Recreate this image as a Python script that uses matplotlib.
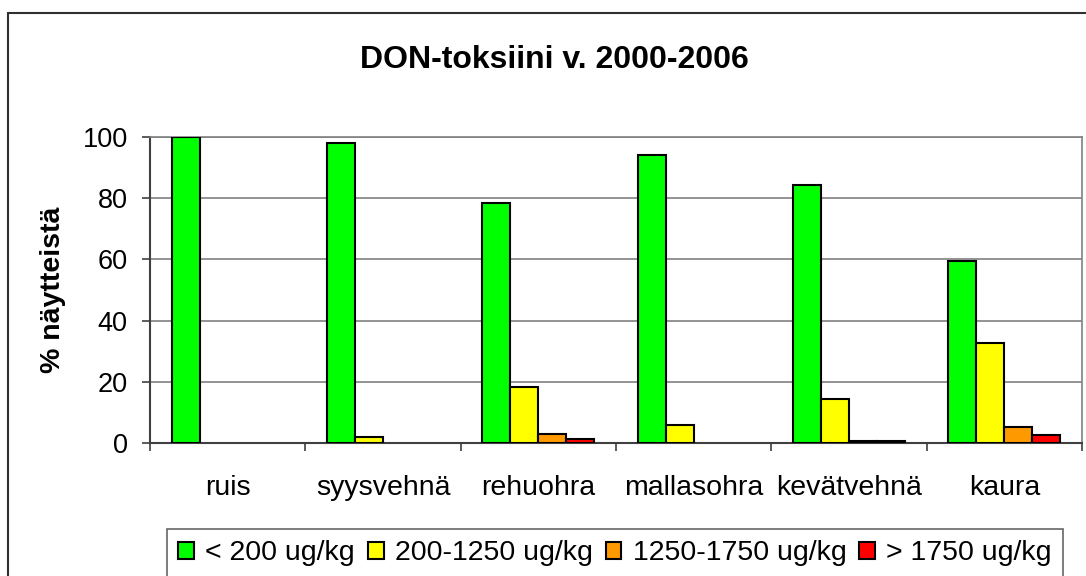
import pandas as pd
import numpy as np
import matplotlib
matplotlib.use('Agg')  # non-GUI backend
import matplotlib.pyplot as plt

print("="*60)
print(" DON-TOKSIINI CHART")
print("="*60)

# ============================================
# STEP 1: CREATE DATA
# ============================================
print("\nSTEP 1: Creating data...")

data = {
    'Vilja': ['ruis', 'syysvehnä', 'rehuohra', 'mallasohra', 'kevätvehnä', 'kaura'],
    '< 200 ug/kg': [100, 98.0, 78.4, 94.1, 84.3, 59.5],
    '200-1250 ug/kg': [np.nan, 2.0, 18.3, 6.0, 14.4, 32.7],
    '1250-1750 ug/kg': [np.nan, np.nan, 2.8, np.nan, 0.7, 5.2],
    '> 1750 ug/kg': [np.nan, np.nan, 1.4, np.nan, 0.7, 2.6]
}

df = pd.DataFrame(data)
print(df)

plt.rcParams['font.family'] = ['Liberation Sans', 'DejaVu Sans']

# ============================================
# CHART: GROUPED BAR
# ============================================
fig = plt.figure(figsize=(10.86, 5.76), dpi=100)
ax = fig.add_axes([0.1381, 0.2309, 0.8582, 0.5313])

colors = ['#00FF00', '#FFFF00', '#FF9900', '#FF0000']
series = df.columns[1:]
x = np.arange(len(df))
width = 0.18

for j, (name, color) in enumerate(zip(series, colors)):
    plt.bar(x + (j - 1.5) * width, df[name], width=width, color=color,
            edgecolor='black', linewidth=1.5, label=name, zorder=3)

plt.title('DON-toksiini v. 2000-2006', fontsize=23, fontweight='bold', pad=50, x=0.4335)
plt.ylabel('% näytteistä', fontsize=20.5, fontweight='bold', labelpad=12)
plt.xlim(-0.5, len(df) - 0.5)
plt.ylim(0, 100)
plt.yticks(range(0, 101, 20), fontsize=19.5)
plt.xticks(x, df['Vilja'], fontsize=20.5)
ax.set_xticks(np.arange(-0.5, len(df)), minor=True)
ax.tick_params(axis='x', which='major', length=0, pad=23)
ax.tick_params(axis='x', which='minor', length=6, width=1.2, color='#404040', direction='out')
ax.tick_params(axis='y', length=6, width=1.2, color='#404040', pad=10)
plt.grid(axis='y', color='#808080', linewidth=1.2, zorder=0)

for side in ['top', 'right']:
    ax.spines[side].set_color('#808080')
    ax.spines[side].set_linewidth(1.2)
for side in ['left', 'bottom']:
    ax.spines[side].set_color('#404040')
    ax.spines[side].set_linewidth(1.5)

# Legend at the bottom of the figure
leg = plt.legend(loc='upper left', bbox_to_anchor=(0.1538, 0.0816),
                 bbox_transform=fig.transFigure, ncol=4, fontsize=20.5,
                 frameon=True, fancybox=False, edgecolor='#404040',
                 handlelength=0.55, handleheight=0.55, handletextpad=0.4,
                 columnspacing=0.45, borderaxespad=0, borderpad=0.4)
leg.get_frame().set_linewidth(1.2)

# Outer chart border
border = plt.Rectangle((8 / 1086, -0.05), 1.1, 1 - 13 / 576 + 0.05,
                       transform=fig.transFigure, fill=False,
                       edgecolor='#303030', linewidth=1.5)
fig.patches.append(border)

plt.savefig('out.png', dpi=100)
print("Saved: out.png")
plt.close()
